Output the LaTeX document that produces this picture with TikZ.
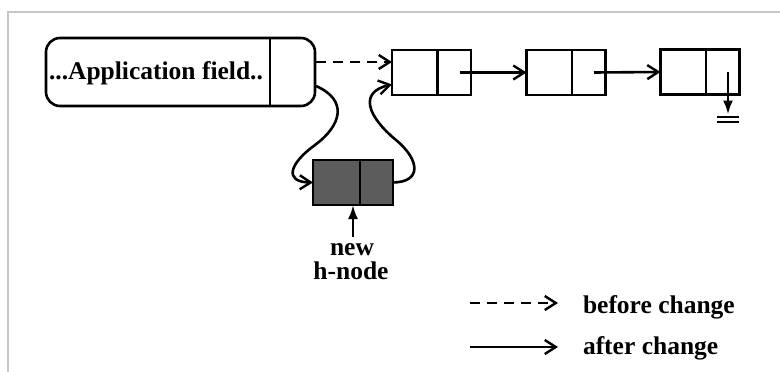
\documentclass[tikz,border=0pt]{standalone}
\usepackage{fontspec}
\setmainfont{Liberation Serif}
\usetikzlibrary{arrows.meta,calc}
\begin{document}
\begin{tikzpicture}[x=1pt,y=-1pt,
  line width=2.6pt,
  every node/.style={inner sep=0pt,outer sep=0pt},
  lbl/.style={font=\fontsize{25.5}{27}\selectfont\bfseries},
  cellbox/.style={draw,rectangle,minimum width=79pt,minimum height=45pt},
  hbox/.style={draw,rectangle,minimum width=80pt,minimum height=45pt,fill=black!64},
  appbox/.style={draw,rectangle,rounded corners=14pt,minimum width=269pt,minimum height=68pt},
  tip/.style={-{Straight Barb[length=11pt,width=14pt,line width=2.4pt]}},
  dsh/.style={tip,dash pattern=on 10pt off 7pt},
  nulltip/.style={-{Latex[length=14pt,width=10pt]}}
]
\useasboundingbox (0,0) rectangle (780,372);
% frame
\draw[line width=2pt,black!22] (8,372) -- (8,12) -- (780,12);

% application field box
\node[appbox] (app) at (180.5,72) {};
\draw ($(app.north east)+(-45pt,0)$) -- ($(app.south east)+(-45pt,0)$);
\node[lbl,anchor=base west] (apptxt) at (49,79) {...Application field..};

% list cells
\node[cellbox] (b1) at (431.5,72.5) {};
\node[cellbox] (b2) at (566,72.5) {};
\node[cellbox] (b3) at (700,72) {};
\foreach \b in {b1,b2,b3}{
  \draw ($(\b.north)+(6pt,0)$) -- ($(\b.south)+(6pt,0)$);
}

% new h-node
\node[hbox] (h) at (353,182.5) {};
\draw ($(h.north)+(7pt,0)$) -- ($(h.south)+(7pt,0)$);

% list pointers
\draw[tip] ($(b1.center)+(28pt,0)$) -- (b2.west);
\draw[tip] ($(b2.center)+(28pt,0)$) -- (b3.west);

% null pointer with ground
\coordinate (gnd) at ($(b3.south)+(28pt,-20pt)$);
\draw[nulltip] ($(b3.center)+(28pt,0)$) -- (gnd);
\draw ($(gnd)+(-11pt,-2.5pt)$) -- ($(gnd)+(11pt,-2.5pt)$);
\draw ($(gnd)+(-11pt,-7.5pt)$) -- ($(gnd)+(11pt,-7.5pt)$);

% before change
\draw[dsh] ($(app.east)+(1pt,10pt)$) -- ($(b1.west)+(0,10.5pt)$);

% after change curves
\draw[tip] ($(app.east)+(1pt,-14pt)$) .. controls (348,100) and (342,125) .. (315,145)
   .. controls (290,163) and (283,182) .. (h.west);
\draw[tip] (h.east) .. controls (422,182) and (420,160) .. (396,140)
   .. controls (368,117) and (358,92) .. ($(b1.west)+(0,-12pt)$);

% new h-node label
\node[lbl,anchor=base] (newlbl) at (352,255) {new};
\node[lbl,anchor=base] (hlbl) at (351,279) {h-node};
\draw[nulltip] ($(h.south)+(0,-32pt)$) -- (h.south);

% legend
\coordinate (l1a) at (470,303);
\coordinate (l2a) at (470,347);
\node[lbl,anchor=base west] (t1) at (583,313) {before change};
\node[lbl,anchor=base west] (t2) at (583,354) {after change};
\draw[dsh] (l1a) -- (558,303);
\draw[tip] (l2a) -- (558,347);
\end{tikzpicture}
\end{document}
